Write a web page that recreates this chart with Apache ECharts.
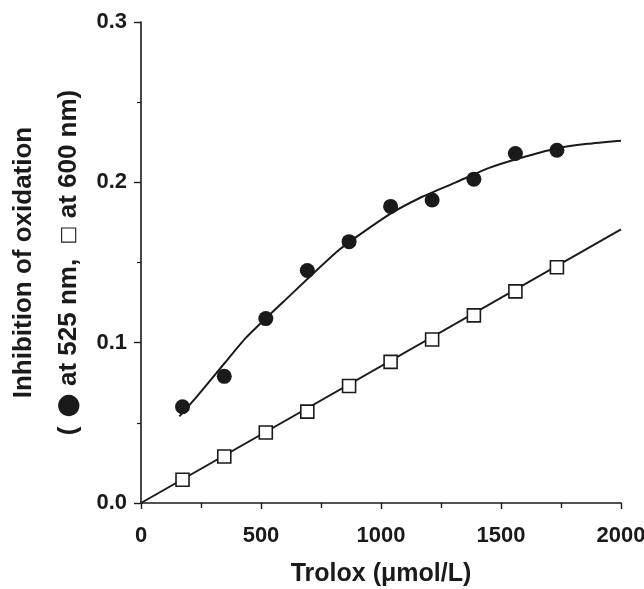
<!DOCTYPE html>
<html>
<head>
<meta charset="utf-8">
<script src="https://cdn.jsdelivr.net/npm/echarts@6/dist/echarts.min.js"></script>
<style>
  html, body { margin: 0; padding: 0; background: #fff; }
  #chart { width: 644px; height: 589px; }
</style>
</head>
<body>
<div id="chart"></div>
<script>
// Trolox concentrations (umol/L) of the measured points
const trolox = [173, 347, 520, 693, 867, 1040, 1213, 1387, 1560, 1733]
// inhibition measured at 525 nm (filled circles)
const inhib525 = [0.060, 0.079, 0.115, 0.145, 0.163, 0.185, 0.189, 0.202, 0.218, 0.220]
// inhibition measured at 600 nm (open squares)
const inhib600 = [0.0145, 0.029, 0.044, 0.057, 0.073, 0.088, 0.102, 0.117, 0.132, 0.147]
// fitted curve through the 525 nm points
const fit525X = [160, 236, 347, 437, 604, 826, 1035, 1172, 1312, 1451, 1577, 1726, 1860, 2000]
const fit525Y = [0.054, 0.067, 0.087, 0.103, 0.127, 0.158, 0.180, 0.191, 0.200, 0.209, 0.215, 0.221, 0.224, 0.226]
// straight fit through the 600 nm points
const fit600X = [0, 2000]
const fit600Y = [0, 0.1706]

const xTicks = [0, 500, 1000, 1500, 2000]
const yTicks = [0.0, 0.1, 0.2, 0.3]

const FONT = "'Liberation Sans', Arial, sans-serif"
const zip = (xs, ys) => xs.map((x, i) => [x, ys[i]])

const chart = echarts.init(document.getElementById('chart'), null, { renderer: 'canvas' })

chart.setOption({
  animation: false,
  backgroundColor: '#fff',
  grid: { left: 141, right: 23, top: 22, bottom: 86, outerBoundsMode: 'none', containLabel: false },
  xAxis: {
    type: 'value',
    min: xTicks[0],
    max: xTicks[xTicks.length - 1],
    interval: 500,
    name: 'Trolox (\u03bcmol/L)',
    nameLocation: 'middle',
    nameGap: 59,
    nameMoveOverlap: false,
    nameTextStyle: { fontFamily: FONT, fontWeight: 'bold', fontSize: 25, color: '#1a1a1a' },
    axisLine: { show: true, lineStyle: { color: '#1a1a1a', width: 1.6 } },
    axisTick: { show: true, inside: false, length: 6, lineStyle: { color: '#1a1a1a', width: 1.4 } },
    minorTick: { show: true, splitNumber: 2, length: 5, lineStyle: { color: '#1a1a1a', width: 1.4 } },
    splitLine: { show: false },
    axisLabel: {
      margin: 22,
      fontFamily: FONT, fontWeight: 'bold', fontSize: 22, color: '#1a1a1a',
      formatter: v => (xTicks.includes(v) ? String(v) : '')
    }
  },
  yAxis: {
    type: 'value',
    min: yTicks[0],
    max: yTicks[yTicks.length - 1],
    interval: 0.1,
    name: '{a|Inhibition of oxidation}\n{a|(}{c| \u25cf}{a| at 525 nm,  }{b|\u25a1}{a| at 600 nm)}',
    nameLocation: 'middle',
    nameGap: 50,
    nameRotate: 90,
    nameMoveOverlap: false,
    nameTextStyle: {
      lineHeight: 45,
      rich: {
        a: { fontFamily: FONT, fontWeight: 'bold', fontSize: 26, color: '#1a1a1a', lineHeight: 45 },
        b: { fontFamily: "'DejaVu Sans'", fontWeight: 'normal', fontSize: 20, color: '#1a1a1a', lineHeight: 45 },
        c: { fontFamily: "'DejaVu Sans'", fontWeight: 'normal', fontSize: 28, color: '#1a1a1a', lineHeight: 45 }
      }
    },
    axisLine: { show: true, lineStyle: { color: '#1a1a1a', width: 1.6 } },
    axisTick: { show: true, inside: false, length: 7, lineStyle: { color: '#1a1a1a', width: 1.4 } },
    minorTick: { show: true, splitNumber: 2, length: 4, lineStyle: { color: '#1a1a1a', width: 1.2 } },
    splitLine: { show: false },
    axisLabel: {
      margin: 14,
      fontFamily: FONT, fontWeight: 'bold', fontSize: 22, color: '#1a1a1a',
      formatter: v => v.toFixed(1)
    }
  },
  series: [
    {
      name: 'fit 525',
      type: 'line',
      data: zip(fit525X, fit525Y),
      smooth: 0.2,
      showSymbol: false,
      lineStyle: { color: '#1a1a1a', width: 2 },
      z: 2
    },
    {
      name: 'fit 600',
      type: 'line',
      data: zip(fit600X, fit600Y),
      showSymbol: false,
      lineStyle: { color: '#1a1a1a', width: 2 },
      z: 2
    },
    {
      name: '525 nm',
      type: 'scatter',
      data: zip(trolox, inhib525),
      symbol: 'circle',
      symbolSize: 15,
      itemStyle: { color: '#1a1a1a', opacity: 1 },
      z: 3
    },
    {
      name: '600 nm',
      type: 'scatter',
      data: zip(trolox, inhib600),
      symbol: 'rect',
      symbolSize: 13,
      itemStyle: { color: '#fff', borderColor: '#1a1a1a', borderWidth: 1.6, opacity: 1 },
      z: 3
    }
  ]
})
</script>
</body>
</html>
